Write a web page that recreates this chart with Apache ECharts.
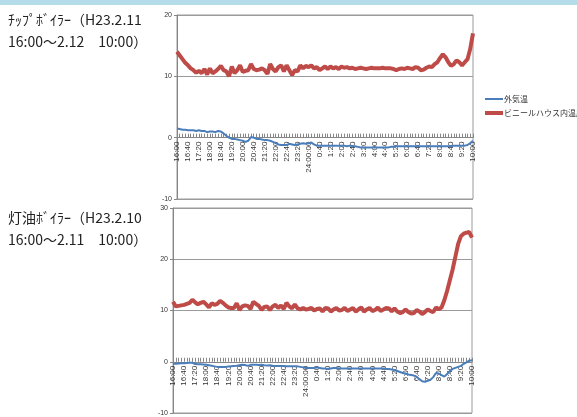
<!DOCTYPE html>
<html>
<head>
<meta charset="utf-8">
<script src="https://cdn.jsdelivr.net/npm/echarts@6/dist/echarts.min.js"></script>
<style>
html,body{margin:0;padding:0;background:#fff;}
#c{width:577px;height:417px;}
</style>
</head>
<body>
<div id="c"></div>
<script>
// Shown tick labels (every 40 min); data every 10 min
var tickLabels = ['16:00','16:40','17:20','18:00','18:40','19:20','20:00','20:40','21:20','22:00','22:40','23:20','24:00:00','0:40','1:20','2:00','2:40','3:20','4:00','4:40','5:20','6:00','6:40','7:20','8:00','8:40','9:20','10:00'];
var seriesNames = ['外気温', 'ビニールハウス内温度'];
var titles = ['ﾁｯﾌﾟﾎﾞｲﾗｰ（H23.2.11\n16:00～2.12　10:00）', '灯油ﾎﾞｲﾗｰ（H23.2.10\n16:00～2.11　10:00）'];

// Chip boiler (top)
var chipOutside = [1.5,1.4,1.3,1.3,1.2,1.2,1.2,1.1,1.2,1.1,1.1,0.9,1.0,1.0,0.9,1.1,1.0,0.7,0.3,0.0,-0.2,-0.2,-0.3,-0.4,-0.5,-0.7,-0.5,0.1,0.0,-0.2,-0.2,-0.3,-0.4,-0.4,-0.5,-0.7,-0.9,-1.1,-1.2,-1.2,-1.2,-1.0,-1.1,-1.2,-1.1,-1.0,-0.9,-1.0,-0.9,-0.8,-1.1,-1.3,-1.3,-1.3,-1.3,-1.3,-1.3,-1.3,-1.3,-1.3,-1.3,-1.3,-1.4,-1.3,-1.4,-1.4,-1.5,-1.6,-1.6,-1.6,-1.6,-1.6,-1.6,-1.6,-1.6,-1.6,-1.6,-1.6,-1.5,-1.5,-1.4,-1.4,-1.4,-1.4,-1.4,-1.4,-1.4,-1.4,-1.4,-1.4,-1.4,-1.4,-1.4,-1.4,-1.4,-1.4,-1.4,-1.4,-1.4,-1.4,-1.4,-1.3,-1.3,-1.3,-1.3,-1.3,-1.2,-0.9,-0.5];
var chipInside = [14.0,13.4,12.8,12.2,11.8,11.3,11.0,10.6,10.9,10.5,11.2,10.3,11.3,10.5,10.8,11.2,11.7,11.0,10.8,10.0,11.6,10.5,11.0,11.8,10.7,10.9,11.0,12.0,11.2,11.0,11.1,11.3,11.0,10.4,12.0,11.2,10.8,11.5,11.8,10.8,11.8,11.0,10.2,11.0,10.8,11.8,11.3,11.7,11.5,11.8,11.3,11.5,11.0,11.3,11.6,11.2,11.6,11.3,11.5,11.2,11.6,11.4,11.5,11.3,11.4,11.2,11.3,11.4,11.3,11.2,11.3,11.4,11.3,11.3,11.3,11.4,11.3,11.3,11.3,11.2,11.0,11.2,11.3,11.2,11.4,11.3,11.2,11.5,11.4,11.0,11.1,11.4,11.6,11.5,12.0,12.3,13.0,13.6,13.1,12.3,11.7,12.0,12.6,12.3,11.8,12.3,12.8,14.5,17.0];

// Kerosene boiler (bottom)
var keroOutside = [-0.4,-0.4,-0.35,-0.3,-0.3,-0.25,-0.2,-0.2,-0.45,-0.5,-0.5,-0.55,-0.6,-0.7,-0.8,-0.9,-1.0,-1.0,-1.0,-1.0,-0.95,-0.9,-0.85,-0.8,-0.7,-0.6,-0.65,-0.8,-0.6,-0.6,-0.6,-0.65,-0.6,-0.7,-0.75,-0.7,-0.8,-0.85,-0.85,-0.85,-0.85,-0.9,-0.9,-0.9,-0.9,-0.9,-1.0,-1.1,-1.2,-1.2,-1.2,-1.2,-1.1,-1.2,-1.3,-1.3,-1.4,-1.3,-1.2,-1.2,-1.3,-1.3,-1.3,-1.3,-1.3,-1.3,-1.3,-1.3,-1.3,-1.3,-1.3,-1.3,-1.3,-1.3,-1.3,-1.3,-1.3,-1.4,-1.4,-1.5,-1.6,-1.8,-2.0,-2.2,-2.3,-2.5,-2.6,-2.7,-2.9,-3.4,-3.8,-3.9,-3.7,-3.5,-3.0,-2.2,-2.3,-2.6,-2.9,-2.4,-1.8,-1.4,-1.2,-1.0,-0.8,-0.4,-0.1,0.2,0.3];
var keroInside = [11.7,10.8,10.9,11.0,11.1,11.3,11.5,12.1,11.6,11.2,11.5,11.7,11.2,10.6,11.4,11.1,11.3,11.9,11.5,11.0,10.6,10.5,10.5,11.4,10.1,10.8,11.0,10.9,10.3,11.7,11.3,10.9,10.1,10.7,10.8,10.1,10.8,11.1,10.5,11.0,10.3,11.5,10.8,10.4,11.2,10.4,10.2,10.5,10.2,10.3,10.5,10.0,10.3,10.4,9.8,10.5,10.4,9.8,10.2,10.5,10.0,10.1,10.5,9.9,10.2,10.5,9.8,10.2,10.6,9.8,10.2,10.5,9.9,10.1,10.6,9.9,10.2,10.5,10.4,9.8,10.4,9.8,9.5,9.7,10.2,9.7,9.4,9.5,10.1,9.8,9.3,9.7,10.2,9.9,9.7,10.6,10.2,10.6,12.0,13.8,15.9,18.0,20.5,23.0,24.5,25.0,25.2,25.3,24.2];

// Categories: every 10 minutes, with the labelled ones taken from tickLabels
var categories = [];
for (var i = 0; i < chipInside.length; i++) {
  if (i % 4 === 0) { categories.push(tickLabels[i / 4]); }
  else {
    var m = 16 * 60 + i * 10, h = Math.floor(m / 60) % 24, mm = m % 60;
    categories.push(h + ':' + (mm < 10 ? '0' : '') + mm + '_' + i);
  }
}

var blue = '#4a7ebb', red = '#be4b48', axisGray = '#868686';
var labelFont = 'Liberation Sans';

var grids = [
  { left: 177, right: 104, top: 15, height: 184, min: -10, max: 20 },
  { left: 173, right: 105, top: 208, height: 205, min: -10, max: 30 }
];

function xAxis(g) {
  var gr = grids[g];
  // place the category axis on the zero line of its value axis
  var zeroOffset = gr.height * (0 - gr.min) / (gr.max - gr.min);
  return {
    type: 'category', gridIndex: g, data: categories, boundaryGap: false,
    offset: -zeroOffset,
    axisLine: { onZero: false, lineStyle: { color: axisGray, width: 1 } },
    axisTick: { interval: 0, inside: true, length: 4, lineStyle: { color: axisGray } },
    axisLabel: { interval: 3, rotate: 90, fontSize: 8, color: '#333', margin: 4, fontFamily: labelFont }
  };
}
function yAxis(g) {
  return {
    type: 'value', gridIndex: g, min: grids[g].min, max: grids[g].max, interval: 10,
    axisLine: { show: true, lineStyle: { color: axisGray } },
    axisTick: { show: true, length: 3, lineStyle: { color: axisGray } },
    splitLine: { show: true, lineStyle: { color: '#9a9a9a', width: 1 } },
    axisLabel: { fontSize: 7, color: '#333', margin: 5, fontFamily: labelFont }
  };
}

var titleStyle = { fontSize: 14, fontWeight: 'normal', color: '#222', lineHeight: 22, fontFamily: 'Noto Sans CJK JP' };

var chart = echarts.init(document.getElementById('c'), null, { renderer: 'canvas' });
chart.setOption({
  animation: false,
  backgroundColor: '#fff',
  graphic: [{ type: 'rect', shape: { x: 0, y: 0, width: 577, height: 5 }, style: { fill: '#b5dde9' } }],
  title: [
    { text: titles[0], left: 8, top: 9, padding: 0, textStyle: titleStyle },
    { text: titles[1], left: 8, top: 207, padding: 0, textStyle: titleStyle }
  ],
  legend: {
    orient: 'vertical', left: 483, top: 95, padding: 0, itemWidth: 18, itemHeight: 8, itemGap: 6,
    data: [
      { name: seriesNames[0], lineStyle: { width: 2 } },
      { name: seriesNames[1], lineStyle: { width: 4 } }
    ],
    itemStyle: { opacity: 0 },
    textStyle: { fontSize: 8, color: '#333', fontFamily: 'Noto Sans CJK JP', padding: [0, 0, 0, -4] }
  },
  grid: grids.map(function (g) {
    return { left: g.left, right: g.right, top: g.top, height: g.height, show: true, borderColor: '#9a9a9a', borderWidth: 1 };
  }),
  xAxis: [xAxis(0), xAxis(1)],
  yAxis: [yAxis(0), yAxis(1)],
  series: [
    { name: seriesNames[0], type: 'line', xAxisIndex: 0, yAxisIndex: 0, data: chipOutside, symbol: 'none', lineStyle: { color: blue, width: 2 }, itemStyle: { color: blue }, z: 3 },
    { name: seriesNames[1], type: 'line', xAxisIndex: 0, yAxisIndex: 0, data: chipInside, symbol: 'none', lineStyle: { color: red, width: 4 }, itemStyle: { color: red }, z: 2 },
    { name: seriesNames[0], type: 'line', xAxisIndex: 1, yAxisIndex: 1, data: keroOutside, symbol: 'none', lineStyle: { color: blue, width: 2 }, itemStyle: { color: blue }, z: 3 },
    { name: seriesNames[1], type: 'line', xAxisIndex: 1, yAxisIndex: 1, data: keroInside, symbol: 'none', lineStyle: { color: red, width: 4 }, itemStyle: { color: red }, z: 2 }
  ]
});
</script>
</body>
</html>
